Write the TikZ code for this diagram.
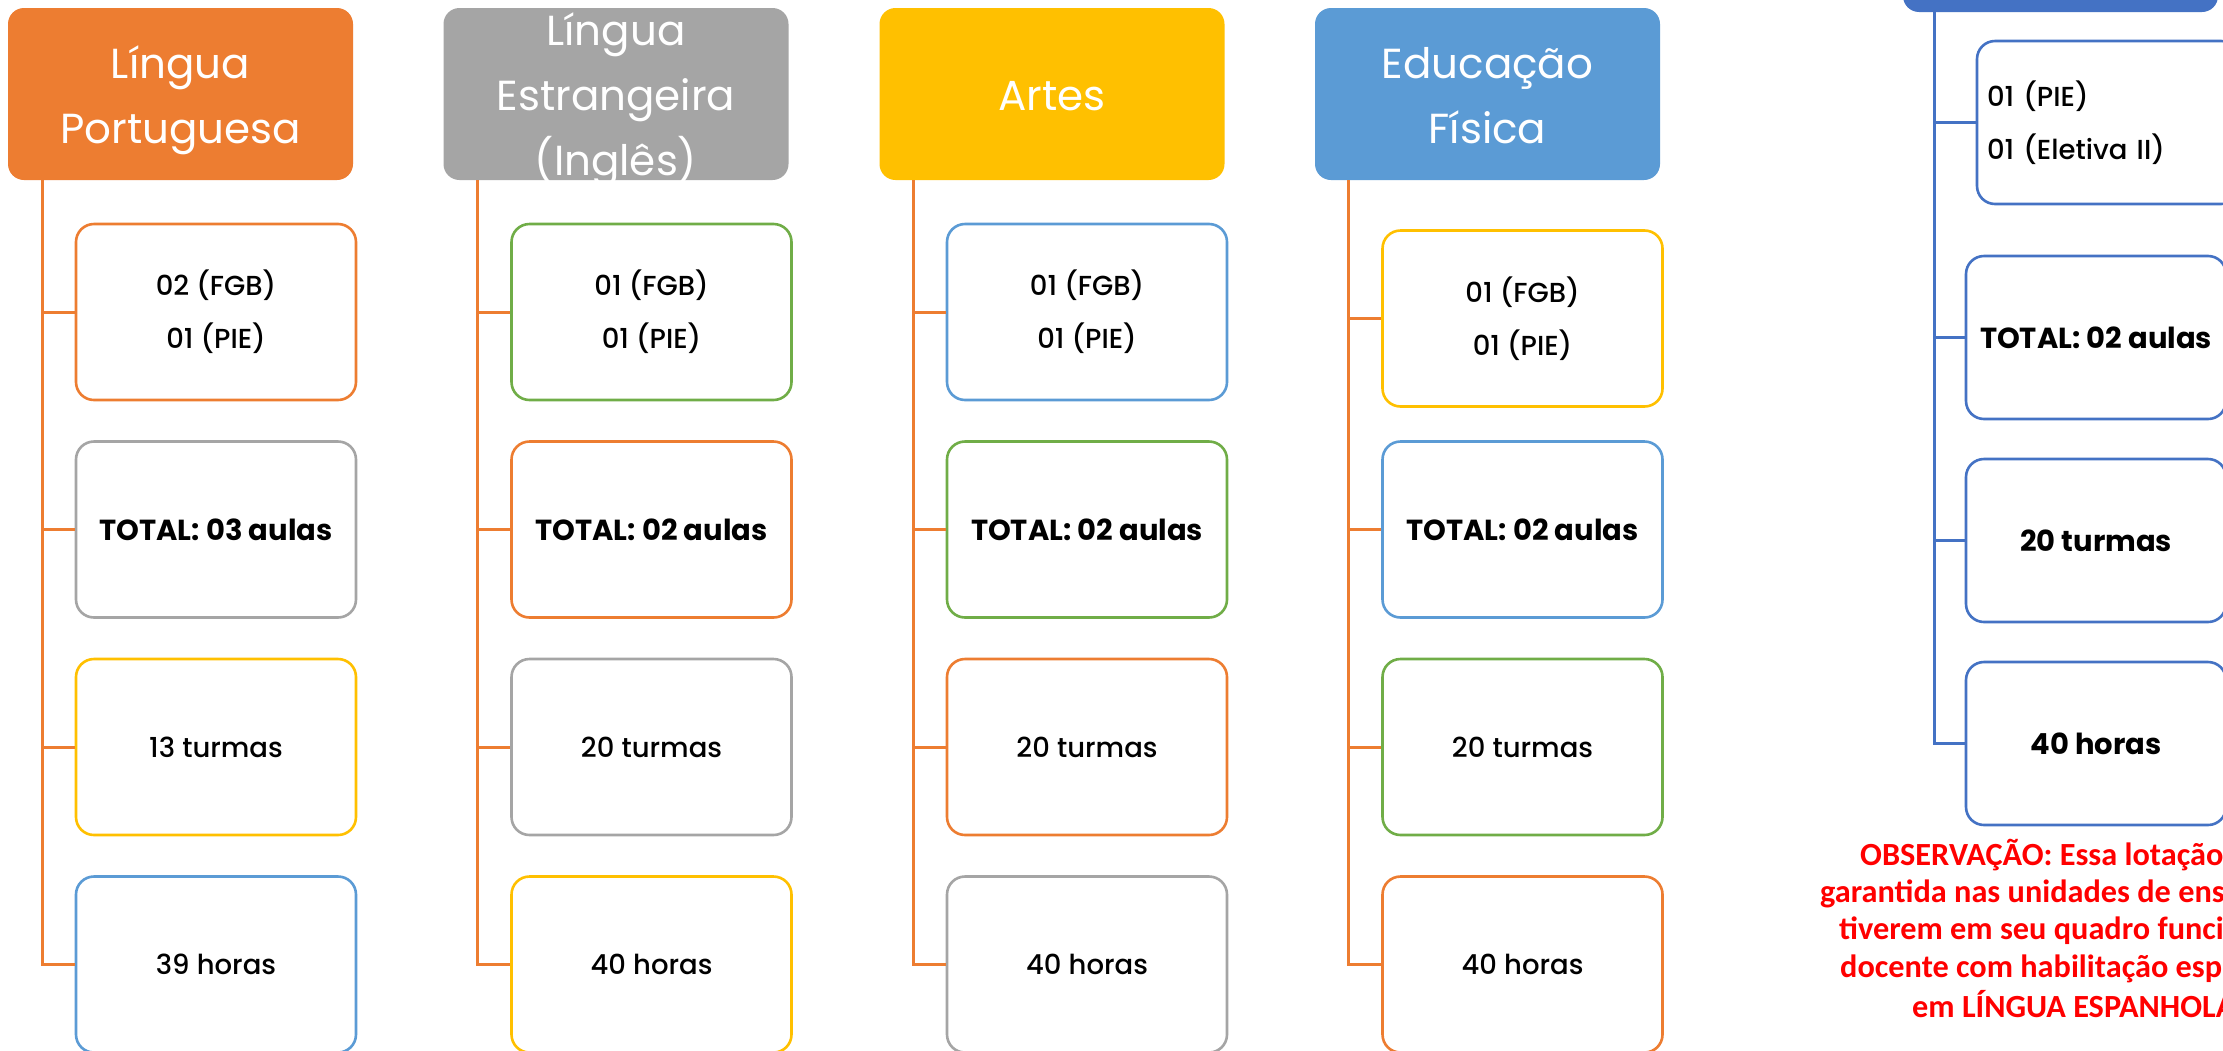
\documentclass[tikz,border=0pt]{standalone}
\usepackage{fontspec}
\setmainfont{Poppins}
\newfontfamily\medfont{Poppins Medium}
\newfontfamily\obsfont{Carlito}
\definecolor{cOrange}{HTML}{ED7D31}
\definecolor{cGray}{HTML}{A5A5A5}
\definecolor{cGold}{HTML}{FFC000}
\definecolor{cBlue}{HTML}{5B9BD5}
\definecolor{cGreen}{HTML}{70AD47}
\definecolor{cDBlue}{HTML}{4472C4}
\definecolor{cRed}{HTML}{FF0000}
\newcommand\hdrtext[1]{\raisebox{-10pt}[0pt][0pt]{\begin{tabular}{@{}c@{}}#1\end{tabular}}}
\tikzset{
  hdr/.style={rounded corners=16pt, minimum width=345pt, minimum height=172pt, inner sep=0pt, text=white, font=\fontsize{42}{65}\selectfont},
  item/.style={draw, line width=2.6pt, rounded corners=18pt, minimum width=280pt, minimum height=176pt, inner sep=0pt, fill=white, align=center, text=black, font=\fontsize{27.5}{53}\selectfont\medfont},
  itemb/.style={item, font=\fontsize{29}{53}\selectfont\bfseries},
  conn/.style={line width=3pt, draw=cOrange},
  connb/.style={line width=3pt, draw=cDBlue},
  sitem/.style={item, draw=cDBlue, minimum width=260pt, minimum height=163pt},
  sitemb/.style={itemb, draw=cDBlue, minimum width=260pt, minimum height=163pt},
  obs/.style={anchor=base west, inner sep=0pt, text=cRed, font=\fontsize{32.3}{38}\selectfont\obsfont\bfseries}
}
\begin{document}
\begin{tikzpicture}[x=1pt,y=-1pt]
\useasboundingbox (0,0) rectangle (2223,1050);
\clip (0,0) rectangle (2223,1050);
\fill[white] (0,0) rectangle (2223,1050);

% headers
\node[hdr, fill=cOrange] (h1) at (180.5,94) {\hdrtext{Língua\\Portuguesa}};
\node[hdr, fill=cGray] (h2) at (616,94) {\hdrtext{Língua\\Estrangeira\\(Inglês)}};
\node[hdr, fill=cGold] (h3) at (1052,94) {\hdrtext{Artes}};
\node[hdr, fill=cBlue] (h4) at (1487.5,94) {\hdrtext{Educação\\Física}};
\node[hdr, fill=cDBlue, minimum width=315pt] (h5) at (2060.5,-74) {};

% column 1
\node[item, draw=cOrange] (b11) at (216,312) {02 (FGB)\\01 (PIE)};
\node[itemb, draw=cGray] (b12) at (216,529.5) {TOTAL: 03 aulas};
\node[item, draw=cGold] (b13) at (216,747) {13 turmas};
\node[item, draw=cBlue] (b14) at (216,964.5) {39 horas};
% column 2
\node[item, draw=cGreen] (b21) at (651.5,312) {01 (FGB)\\01 (PIE)};
\node[itemb, draw=cOrange] (b22) at (651.5,529.5) {TOTAL: 02 aulas};
\node[item, draw=cGray] (b23) at (651.5,747) {20 turmas};
\node[item, draw=cGold] (b24) at (651.5,964.5) {40 horas};
% column 3
\node[item, draw=cBlue] (b31) at (1087,312) {01 (FGB)\\01 (PIE)};
\node[itemb, draw=cGreen] (b32) at (1087,529.5) {TOTAL: 02 aulas};
\node[item, draw=cOrange] (b33) at (1087,747) {20 turmas};
\node[item, draw=cGray] (b34) at (1087,964.5) {40 horas};
% column 4
\node[item, draw=cGold] (b41) at (1522.5,318.5) {01 (FGB)\\01 (PIE)};
\node[itemb, draw=cBlue] (b42) at (1522.5,529.5) {TOTAL: 02 aulas};
\node[item, draw=cGreen] (b43) at (1522.5,747) {20 turmas};
\node[item, draw=cOrange] (b44) at (1522.5,964.5) {40 horas};
% column 5
\node[sitem, minimum width=262pt, text width=242pt, inner xsep=10pt, align=left] (b51) at (2108,122.5) {01 (PIE)\\01 (Eletiva II)};
\node[sitemb] (b52) at (2096,337.5) {TOTAL: 02 aulas};
\node[sitemb] (b53) at (2096,540.5) {20 turmas};
\node[sitemb] (b54) at (2096,743.5) {40 horas};

% connector trunks
\coordinate (t1) at (42,180);
\coordinate (t2) at (477,180);
\coordinate (t3) at (913,180);
\coordinate (t4) at (1348,180);
\coordinate (t5) at (1934,12);
\foreach \c in {1,2,3,4}{
  \foreach \r in {1,2,3,4}{
    \draw[conn] (t\c) |- (b\c\r.west);
  }
}
\foreach \r in {1,2,3,4}{
  \draw[connb] (t5) |- (b5\r.west);
}

% observation
\node[obs] (obs1) at (1860,865) {OBSERVAÇÃO: Essa lotação será};
\node[obs] (obs2) at (1820,902) {garantida nas unidades de ensino que};
\node[obs] (obs3) at (1839,939) {tiverem em seu quadro funcional};
\node[obs] (obs4) at (1840,977) {docente com habilitação específica};
\node[obs] (obs5) at (1912,1017) {em LÍNGUA ESPANHOLA.};
\end{tikzpicture}
\end{document}
